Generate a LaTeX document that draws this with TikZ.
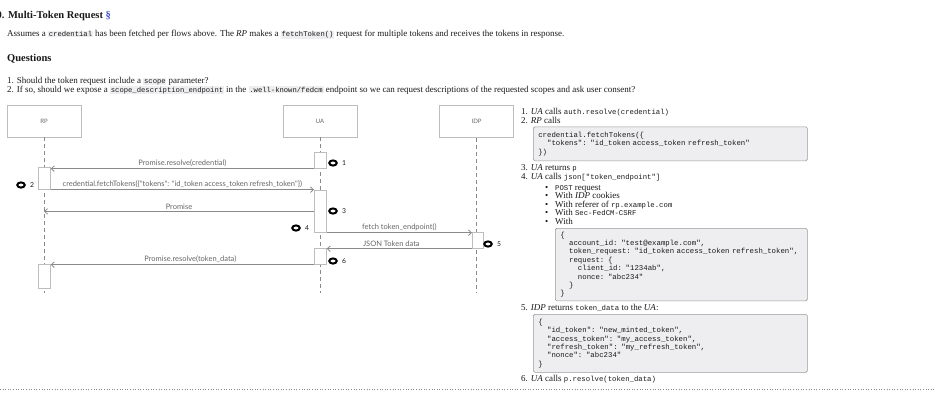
\documentclass[tikz,border=0pt]{standalone}
\usepackage{fontspec}
\setmainfont{Liberation Serif}
\setmonofont{Liberation Mono}
\newfontfamily\seqfont{Lato}
\usetikzlibrary{arrows.meta,shapes.geometric}
\definecolor{txt}{HTML}{1A1A1A}
\definecolor{codebg}{HTML}{EEEEF0}
\definecolor{codeframe}{HTML}{9A9A9A}
\definecolor{seqline}{HTML}{8A8A8A}
\definecolor{seqbox}{HTML}{BDBDBD}
\definecolor{seqtext}{HTML}{666666}
\definecolor{linkblue}{HTML}{3C50C8}
\newlength\chw \setlength\chw{4.41pt}
\newcommand\ind[1]{\hspace*{#1\chw}}
\newcommand\codeln[1]{\mbox{#1}}
\newcommand\cd[1]{{\ttfamily\fontsize{7.2pt}{8.4pt}\selectfont #1}}
\newcommand\rcd[1]{{\ttfamily\fontsize{7.3pt}{8.4pt}\selectfont #1}}
\newcommand\cdb[1]{{\setlength\fboxsep{0.7pt}\colorbox{codebg}{\cd{#1}}}}
\begin{document}
\begin{tikzpicture}[x=1pt,y=-1pt,
  ptxt/.style={anchor=base west,inner sep=0pt,font=\fontsize{9pt}{10pt}\selectfont,text=txt},
  head/.style={anchor=base west,inner sep=0pt,font=\bfseries\fontsize{10.5pt}{12pt}\selectfont,text=txt},
  rtxt/.style={anchor=base west,inner sep=0pt,font=\fontsize{9pt}{10pt}\selectfont,text=txt},
  codebox/.style={draw=codeframe,fill=codebg,rounded corners=1.5pt,line width=0.6pt,anchor=north west,
    inner xsep=5pt,inner ysep=0pt,align=left,font=\ttfamily\fontsize{7.35pt}{8.4pt}\selectfont,text=txt},
  actor/.style={draw=seqbox,line width=0.7pt,minimum width=74pt,minimum height=32pt,inner sep=0pt,
    font=\seqfont\fontsize{6pt}{7pt}\selectfont,text=seqtext},
  life/.style={draw=seqline,line width=0.7pt,dash pattern=on 4pt off 3pt},
  act/.style={draw=seqbox,fill=white,line width=0.7pt,minimum width=12pt,inner sep=0pt,anchor=north west},
  msg/.style={draw=seqline,line width=0.8pt,-{Straight Barb[length=3pt,width=5.5pt]}},
  lbl/.style={font=\seqfont\fontsize{7.5pt}{8pt}\selectfont,text=seqtext,above,inner sep=1.3pt},
  badge/.style={ellipse,draw=black,line width=2pt,minimum width=7.5pt,minimum height=5.2pt,inner sep=0pt},
  num/.style={font=\seqfont\fontsize{6.8pt}{8pt}\selectfont,text=txt,anchor=west,inner sep=0pt}]
\useasboundingbox (0,0) rectangle (936,402);
\fill[white] (0,0) rectangle (936,402);

% ---------- top text ----------
\node[head] (title) at (-3.5,18) {0. Multi-Token Request \textcolor{linkblue}{§}};
\node[ptxt] (intro) at (7,36.5) {Assumes a \cdb{credential} has been fetched per flows above. The \textit{RP} makes a \cdb{fetchToken()} request for multiple tokens and receives the tokens in response.};
\node[head] (qhead) at (7,61) {Questions};
\node[ptxt] (q1) at (7,83) {1. Should the token request include a \cdb{scope} parameter?};
\node[ptxt] (q2) at (7,92) {2. If so, should we expose a \cdb{scope\_description\_endpoint} in the \cdb{.well-known/fedcm} endpoint so we can request descriptions of the requested scopes and ask user consent?};

% ---------- sequence diagram ----------
\node[actor] (rp) at (44,121) {RP};
\node[actor] (ua) at (320,121) {UA};
\node[actor] (idp) at (476.5,121.5) {IDP};
\coordinate (rpend) at (44,293);
\coordinate (uaend) at (320,293);
\coordinate (idpend) at (476.5,293);
\draw[life] (rp.south) -- (rpend);
\draw[life] (ua.south) -- (uaend);
\draw[life] (idp.south) -- (idpend);

\node[act,minimum height=16pt] (a1) at (314,152) {};
\node[act,minimum height=22pt] (r1) at (38,167) {};
\node[act,minimum height=42pt] (a2) at (314,190) {};
\node[act,minimum width=11pt,minimum height=16pt] (i1) at (472,232) {};
\node[act,minimum height=16pt] (a3) at (314,248) {};
\node[act,minimum height=24pt] (r2) at (38,264) {};

\draw[msg] (a1.south west) -- (a1.south west -| r1.east) node[lbl,midway] {Promise.resolve(credential)};
\draw[msg] (r1.south east) -- (r1.south east -| a2.west) node[lbl,midway] {credential.fetchTokens(\{"tokens": "id\_token access\_token refresh\_token"\})};
\draw[msg] (a2.west) -- (a2.west -| rpend) node[lbl,midway] {Promise};
\draw[msg] (a2.south east) -- (a2.south east -| i1.west) node[lbl,midway] {fetch token\_endpoint()};
\draw[msg] (i1.south west) -- (i1.south west -| a3.east) node[lbl,midway,xshift=-8pt] {JSON Token data};
\draw[msg] (a3.south west) -- (a3.south west -| r2.east) node[lbl,midway,xshift=8pt] {Promise.resolve(token\_data)};

\node[badge] (b1) at (333,163) {}; \node[num] (n1) at (342,163) {1};
\node[badge] (b2) at (21,185) {};  \node[num] (n2) at (30,185) {2};
\node[badge] (b3) at (333,211) {}; \node[num] (n3) at (342,211) {3};
\node[badge] (b4) at (296,228) {}; \node[num] (n4) at (305,228) {4};
\node[badge] (b5) at (488,244) {}; \node[num] (n5) at (497,244) {5};
\node[badge] (b6) at (333,261) {}; \node[num] (n6) at (342,261) {6};

% ---------- right column ----------
\node[rtxt] (s1) at (521,114) {1. \textit{UA} calls \rcd{auth.resolve(credential)}};
\node[rtxt] (s2) at (521,123) {2. \textit{RP} calls};
\node[codebox,text width=264pt,minimum height=34pt] (cb1) at (533,126.5)
  {\codeln{credential.fetchTokens(\{}\\
   \codeln{\ind{2}"tokens": "id\_token access\_token refresh\_token"}\\
   \})};
\node[rtxt] (s3) at (521,170) {3. \textit{UA} returns \rcd{p}};
\node[rtxt] (s4) at (521,179) {4. \textit{UA} calls \rcd{json["token\_endpoint"]}};
\node[rtxt] (s4a) at (545,190) {\makebox[10pt][l]{\textbullet}\rcd{POST} request};
\node[rtxt] (s4b) at (545,198.5) {\makebox[10pt][l]{\textbullet}With \textit{IDP} cookies};
\node[rtxt] (s4c) at (545,207) {\makebox[10pt][l]{\textbullet}With referer of \rcd{rp.example.com}};
\node[rtxt] (s4d) at (545,215.5) {\makebox[10pt][l]{\textbullet}With \rcd{Sec-FedCM-CSRF}};
\node[rtxt] (s4e) at (545,224) {\makebox[10pt][l]{\textbullet}With};
\node[codebox,text width=242pt,minimum height=72.5pt] (cb2) at (555,228)
  {\{\\
   \codeln{\ind{2}account\_id: "test@example.com",}\\
   \codeln{\ind{2}token\_request: "id\_token access\_token refresh\_token",}\\
   \codeln{\ind{2}request: \{}\\
   \codeln{\ind{4}client\_id: "1234ab",}\\
   \codeln{\ind{4}nonce: "abc234"}\\
   \codeln{\ind{2}\}}\\
   \}};
\node[rtxt] (s5) at (521,310.5) {5. \textit{IDP} returns \rcd{token\_data} to the \textit{UA}:};
\node[codebox,text width=264pt,minimum height=58pt] (cb3) at (533,314)
  {\{\\
   \codeln{\ind{2}"id\_token": "new\_minted\_token",}\\
   \codeln{\ind{2}"access\_token": "my\_access\_token",}\\
   \codeln{\ind{2}"refresh\_token": "my\_refresh\_token",}\\
   \codeln{\ind{2}"nonce": "abc234"}\\
   \}};
\node[rtxt] (s6) at (521,381) {6. \textit{UA} calls \rcd{p.resolve(token\_data)}};

\coordinate (rulel) at (0,389.5);
\coordinate (ruler) at (936,389.5);
\draw[seqline,line width=0.6pt,dotted] (rulel) -- (ruler);
\end{tikzpicture}
\end{document}
